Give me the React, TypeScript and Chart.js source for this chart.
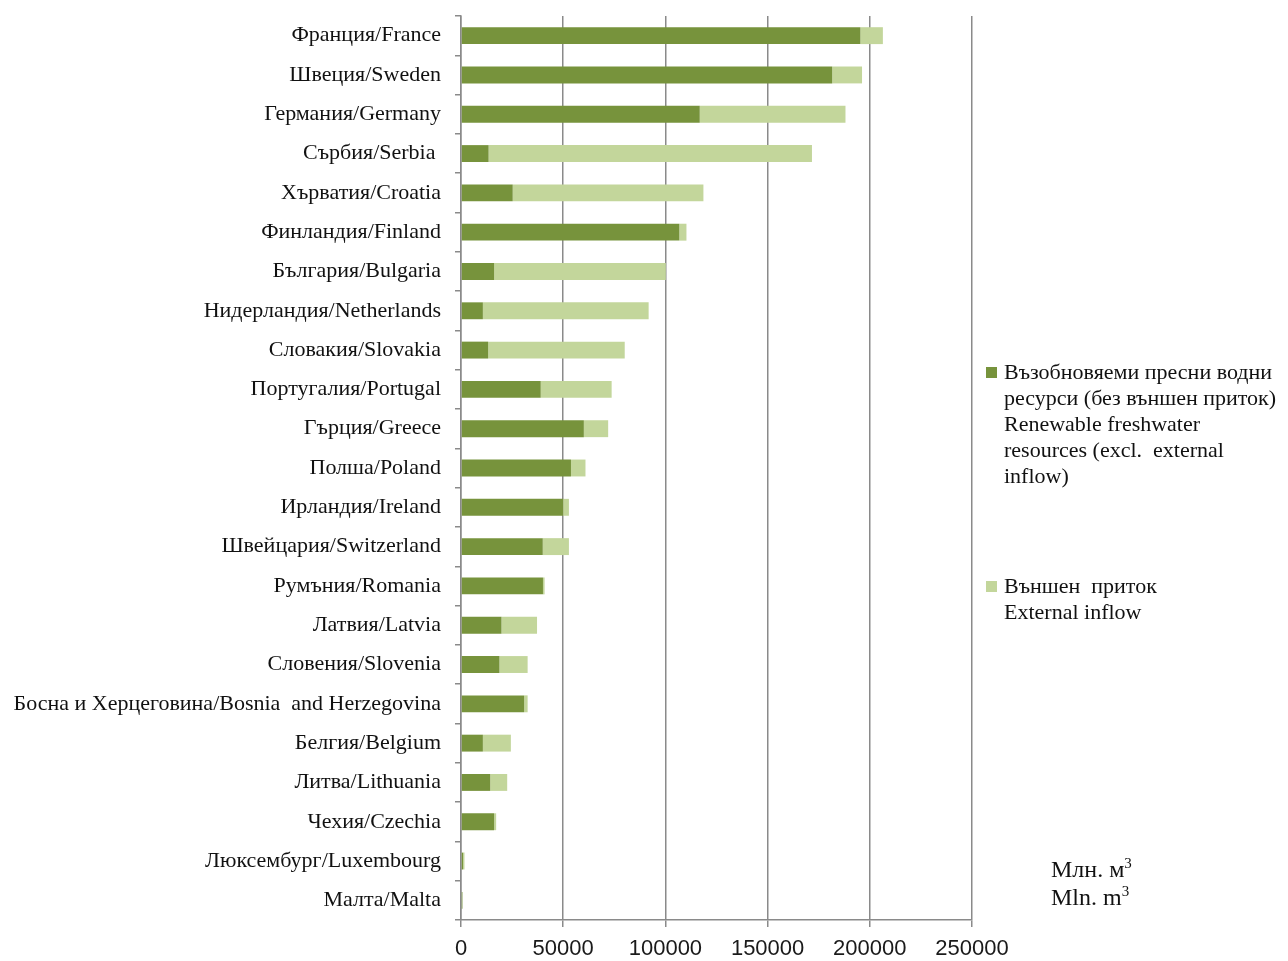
import React, { useEffect, useRef } from "react";
import { Chart, registerables } from "chart.js";

Chart.register(...registerables);

const categories = [
  "Франция/France",
  "Швеция/Sweden",
  "Германия/Germany",
  "Сърбия/Serbia ",
  "Хърватия/Croatia",
  "Финландия/Finland",
  "България/Bulgaria",
  "Нидерландия/Netherlands",
  "Словакия/Slovakia",
  "Португалия/Portugal",
  "Гърция/Greece",
  "Полша/Poland",
  "Ирландия/Ireland",
  "Швейцария/Switzerland",
  "Румъния/Romania",
  "Латвия/Latvia",
  "Словения/Slovenia",
  "Босна и Херцеговина/Bosnia  and Herzegovina",
  "Белгия/Belgium",
  "Литва/Lithuania",
  "Чехия/Czechia",
  "Люксембург/Luxembourg",
  "Малта/Malta",
];

const renewable = [
  195400, 181600, 116800, 13500, 25300, 106800, 16200, 10700, 13300, 39000,
  60100, 53800, 50000, 40000, 40100, 19800, 18800, 30900, 10700, 14300, 16200,
  1000, 700,
];

const externalInflow = [
  11000, 14600, 71300, 158200, 93300, 3500, 84000, 81100, 66800, 34700, 11900,
  7100, 2800, 12800, 800, 17400, 13800, 1700, 13700, 8300, 1000, 700, 0,
];

const xTicks = [0, 50000, 100000, 150000, 200000, 250000];

const legendRenewable = [
  "Възобновяеми пресни водни",
  "ресурси (без външен приток)",
  "Renewable freshwater",
  "resources (excl.  external",
  "inflow)",
];
const legendExternal = ["Външен  приток", "External inflow"];

const DARK = "#77933C";
const LIGHT = "#C3D69B";
const GRID = "#8A8A8A";
const SERIF = '"Liberation Serif", "Times New Roman", serif';
const SANS = '"Liberation Sans", Arial, sans-serif';

export default function App() {
  const ref = useRef<HTMLCanvasElement | null>(null);

  useEffect(() => {
    if (!ref.current) return;
    const chart = new Chart(ref.current, {
      type: "bar",
      data: {
        labels: categories,
        datasets: [
          {
            label: "renewable",
            data: renewable,
            backgroundColor: DARK,
            borderWidth: 0,
            barPercentage: 0.43,
            categoryPercentage: 1,
          },
          {
            label: "external",
            data: externalInflow,
            backgroundColor: LIGHT,
            borderWidth: 0,
            barPercentage: 0.43,
            categoryPercentage: 1,
          },
        ],
      },
      options: {
        indexAxis: "y",
        responsive: false,
        animation: false,
        layout: { padding: { top: 16, right: 316, left: 0, bottom: 0 } },
        plugins: {
          legend: { display: false },
          tooltip: { enabled: false },
        },
        scales: {
          x: {
            stacked: true,
            min: 0,
            max: 250000,
            afterBuildTicks: (s: any) => {
              s.ticks = xTicks.map((v) => ({ value: v }));
            },
            afterFit: (s: any) => {
              s.height = 41;
              s.paddingLeft = 0;
              s.paddingRight = 0;
            },
            grid: {
              color: GRID,
              lineWidth: 1.5,
              drawTicks: true,
              tickLength: 7,
            },
            border: { color: GRID, width: 1.5 },
            ticks: {
              color: "#1a1a1a",
              padding: 9,
              font: { family: SANS, size: 22 },
              maxRotation: 0,
              autoSkip: false,
              callback: (v: any) => String(v),
            },
          },
          y: {
            stacked: true,
            afterFit: (s: any) => {
              s.width = 461;
              s.paddingTop = 0;
              s.paddingBottom = 0;
            },
            grid: {
              drawOnChartArea: false,
              drawTicks: true,
              tickLength: 6,
              color: GRID,
              lineWidth: 1.5,
            },
            border: { color: GRID, width: 1.5 },
            ticks: {
              color: "#111",
              padding: 14,
              autoSkip: false,
              font: { family: SERIF, size: 22 },
            },
          },
        },
      },
    });
    return () => chart.destroy();
  }, []);

  const textStyle: React.CSSProperties = {
    position: "absolute",
    fontFamily: SERIF,
    fontSize: 22,
    lineHeight: "26px",
    color: "#111",
    whiteSpace: "pre",
  };
  const box = (color: string, top: number): React.CSSProperties => ({
    position: "absolute",
    left: 986,
    top,
    width: 11,
    height: 11,
    background: color,
  });

  return (
    <div
      style={{
        position: "absolute",
        left: 0,
        top: 0,
        width: 1288,
        height: 961,
        background: "#fff",
      }}
    >
      <canvas ref={ref} width={1288} height={961} style={{ display: "block" }} />
      <div style={box(DARK, 367)} />
      <div style={{ ...textStyle, left: 1004, top: 359 }}>
        {legendRenewable.join("\n")}
      </div>
      <div style={box(LIGHT, 581)} />
      <div style={{ ...textStyle, left: 1004, top: 573 }}>
        {legendExternal.join("\n")}
      </div>
      <div
        style={{
          ...textStyle,
          left: 1051,
          top: 855,
          lineHeight: "28px",
          fontSize: 24,
        }}
      >
        <div>
          Млн. м<sup style={{ fontSize: 15, lineHeight: 0 }}>3</sup>
        </div>
        <div>
          Mln. m<sup style={{ fontSize: 15, lineHeight: 0 }}>3</sup>
        </div>
      </div>
    </div>
  );
}
